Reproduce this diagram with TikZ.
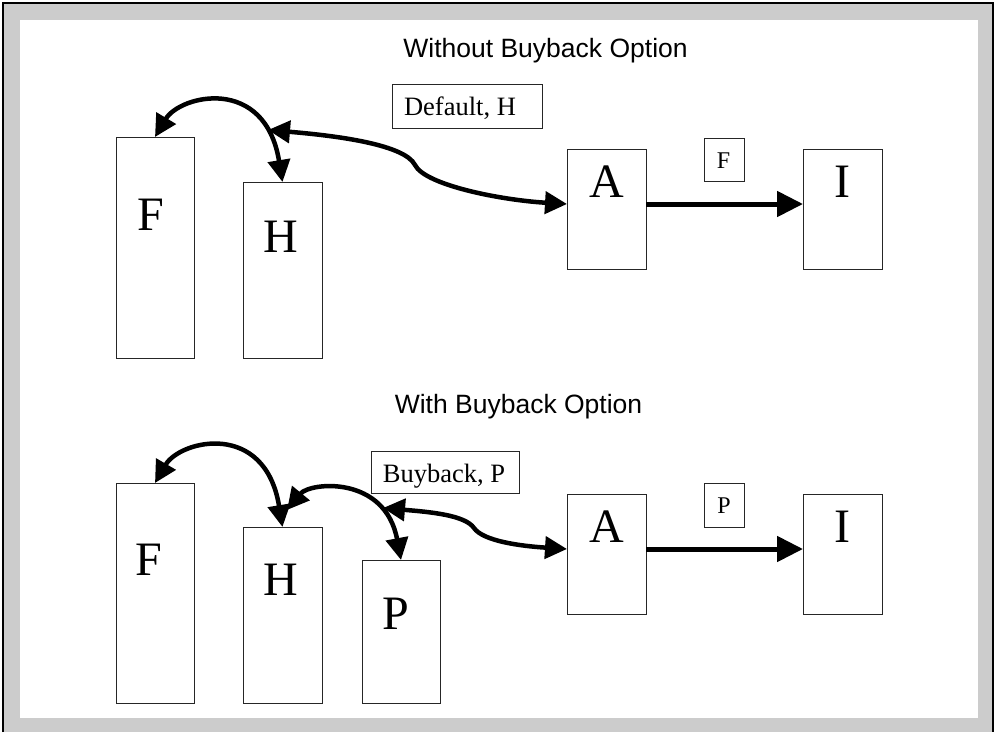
\documentclass[tikz,border=0pt]{standalone}
\usepackage{fontspec}
\setmainfont{Liberation Serif}
\newfontfamily\titlefont{Liberation Sans}
\usetikzlibrary{arrows.meta}
\begin{document}
\begin{tikzpicture}[x=1pt,y=-1pt,
 box/.style={draw=black!85,line width=1pt,fill=white,inner sep=0pt,outer sep=0pt},
 big/.style={font=\fontsize{48}{48}\selectfont,inner sep=0pt,anchor=base},
 lab/.style={font=\fontsize{26.5}{27}\selectfont,inner sep=0pt,anchor=base},
 small/.style={font=\fontsize{24}{24}\selectfont,inner sep=0pt,anchor=base},
 ttl/.style={font=\titlefont\fontsize{26.5}{27}\selectfont,inner sep=0pt,anchor=base},
 curvearrow/.style={line width=4.5pt,{Triangle[length=22pt,width=22pt]}-{Triangle[length=22pt,width=22pt]}},
 flow/.style={line width=5pt,-{Triangle[length=26pt,width=25pt]}}]
% frame
\useasboundingbox (0,0) rectangle (994,732);
\fill[black!20] (3,3) rectangle (993,732);
\draw[line width=1.5pt] (3,732) -- (3,3) -- (993,3) -- (993,732);
\fill[white] (20,20) rectangle (978,718);

% ---------- top: without buyback ----------
\node[ttl] (t1) at (545.5,57) {Without Buyback Option};
\node[box,minimum width=78,minimum height=221] (F1) at (155,247.5) {};
\node[box,minimum width=79,minimum height=176] (H1) at (282.5,270) {};
\node[box,minimum width=79,minimum height=120] (A1) at (606.5,209) {};
\node[box,minimum width=79,minimum height=120] (I1) at (842.5,209) {};
\node[box,minimum width=150,minimum height=44] (D1) at (467,106) {};
\node[box,minimum width=40,minimum height=43] (sF) at (724,159.5) {};
\node[big] (F1t) at (151,230) {F};
\node[big] (H1t) at (281,252) {H};
\node[big] (A1t) at (606.5,197) {A};
\node[big] (I1t) at (842.5,197) {I};
\node[lab] (D1t) at (460,115) {Default, H};
\node[small] (sFt) at (723.5,168) {F};

\coordinate (H1a) at (268,130);
\draw[curvearrow] (F1.north) .. controls (180,95) and (265,75) .. (H1.north);
\draw[curvearrow] (H1a) .. controls (340,136) and (405,145) .. (415,165)
   .. controls (425,185) and (500,200) .. ([yshift=5pt]A1.west);
\draw[flow] ([yshift=5pt]A1.east) -- ([yshift=5pt]I1.west);

% ---------- bottom: with buyback ----------
\node[ttl] (t2) at (518.5,413) {With Buyback Option};
\node[box,minimum width=78,minimum height=220] (F2) at (155,593) {};
\node[box,minimum width=79,minimum height=176] (H2) at (282.5,615) {};
\node[box,minimum width=78,minimum height=143] (P2) at (401,631.5) {};
\node[box,minimum width=79,minimum height=120] (A2) at (606.5,554) {};
\node[box,minimum width=79,minimum height=120] (I2) at (842.5,554) {};
\node[box,minimum width=148,minimum height=42] (B2) at (445,472) {};
\node[box,minimum width=40,minimum height=44] (sP) at (724,505) {};
\node[big] (F2t) at (149,575) {F};
\node[big] (H2t) at (281,595) {H};
\node[big] (P2t) at (395.5,629) {P};
\node[big] (A2t) at (606.5,542) {A};
\node[big] (I2t) at (842.5,542) {I};
\node[lab] (B2t) at (444,482) {Buyback, P};
\node[small] (sPt) at (724,513) {P};

\coordinate (H2a) at (287,510);
\coordinate (P2a) at (383,508);
\draw[curvearrow] (F2.north) .. controls (180,440) and (265,420) .. (H2.north);
\draw[curvearrow] (H2a) .. controls (310,482) and (385,475) .. (P2.north);
\draw[curvearrow] (P2a) .. controls (430,512) and (465,515) .. (474,528)
   .. controls (483,541) and (520,546) .. ([yshift=5pt]A2.west);
\draw[flow] ([yshift=5pt]A2.east) -- ([yshift=5pt]I2.west);
\end{tikzpicture}
\end{document}
